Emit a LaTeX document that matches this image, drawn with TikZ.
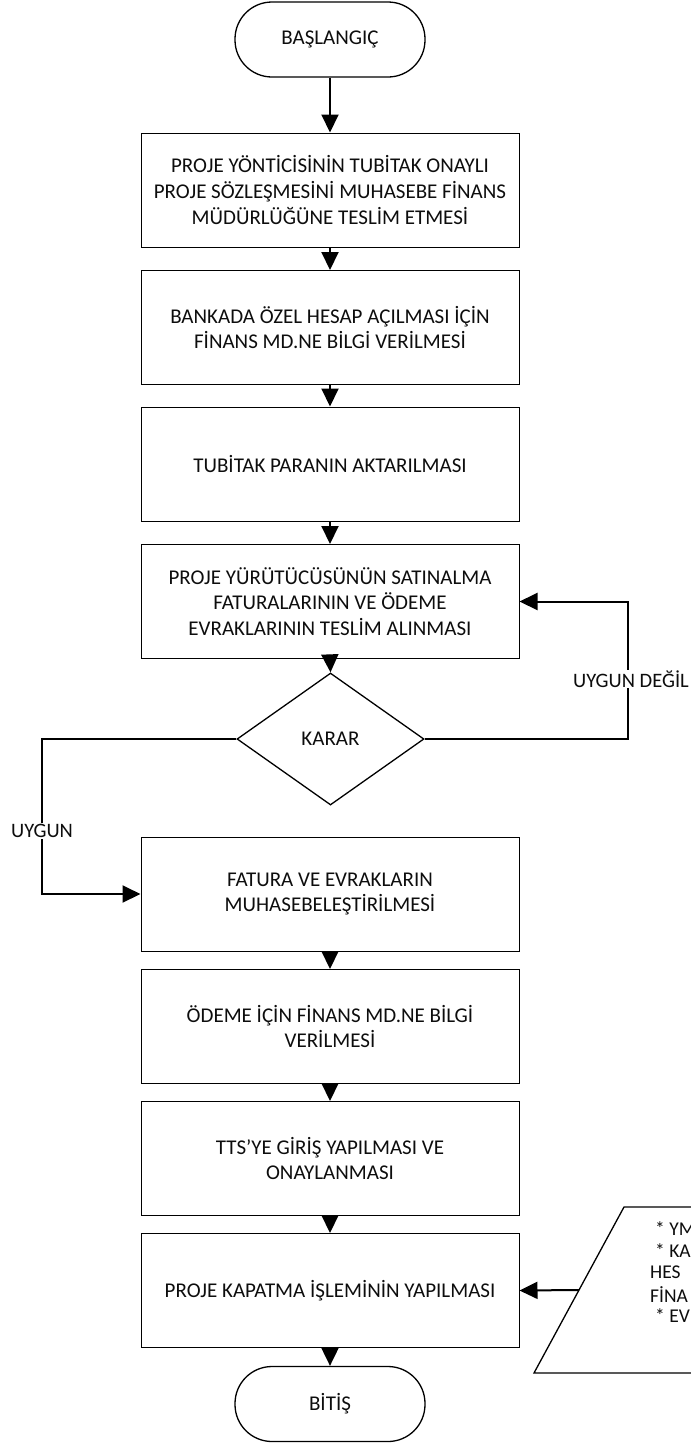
\documentclass[tikz,border=0pt]{standalone}
\usepackage{fontspec}
\setmainfont{Carlito}
\usetikzlibrary{arrows.meta,shapes.geometric,calc}
\begin{document}
\begin{tikzpicture}[x=1pt,y=-1pt,
  every node/.style={font=\fontsize{21}{25.8}\selectfont, text=black!95},
  procbox/.style={draw, line width=1pt, minimum width=378pt, minimum height=114pt, inner sep=0pt, align=center},
  term/.style={draw, line width=1.3pt, rounded corners=37pt, minimum width=190pt, minimum height=75pt, inner sep=0pt},
  decision/.style={draw, diamond, line width=1.3pt, minimum width=187pt, minimum height=132pt, inner sep=0pt},
  flow/.style={line width=2pt, -{Triangle[length=18pt,width=17pt]}},
  lbl/.style={fill=white, inner sep=1pt, font=\fontsize{20.5}{24}\selectfont},
  notetext/.style={anchor=west, inner sep=0pt, font=\fontsize{19.5}{22}\selectfont}
]
\useasboundingbox (0,0) rectangle (691,1444);

\node[term] (start) at (330,39.5) {BAŞLANGIÇ};
\node[procbox] (b1) at (330,190) {PROJE YÖNTİCİSİNİN TUBİTAK ONAYLI\\PROJE SÖZLEŞMESİNİ MUHASEBE FİNANS\\MÜDÜRLÜĞÜNE TESLİM ETMESİ};
\node[procbox] (b2) at (330,327.5) {BANKADA ÖZEL HESAP AÇILMASI İÇİN\\FİNANS MD.NE BİLGİ VERİLMESİ};
\node[procbox] (b3) at (330,464) {TUBİTAK PARANIN AKTARILMASI};
\node[procbox] (b4) at (330,601.5) {PROJE YÜRÜTÜCÜSÜNÜN SATINALMA\\FATURALARININ VE ÖDEME\\EVRAKLARININ TESLİM ALINMASI};
\node[decision] (karar) at (330.5,739) {KARAR};
\node[procbox] (b5) at (330,894) {FATURA VE EVRAKLARIN\\MUHASEBELEŞTİRİLMESİ};
\node[procbox] (b6) at (330,1026.5) {ÖDEME İÇİN FİNANS MD.NE BİLGİ\\VERİLMESİ};
\node[procbox] (b7) at (330,1158.5) {TTS’YE GİRİŞ YAPILMASI VE\\ONAYLANMASI};
\node[procbox] (b8) at (330,1290.5) {PROJE KAPATMA İŞLEMİNİN YAPILMASI};
\node[term] (finish) at (330,1404) {BİTİŞ};

\draw[flow] (start.south) -- (b1.north);
\draw[flow] (b1.south) -- (b2.north);
\draw[flow] (b2.south) -- (b3.north);
\draw[flow] (b3.south) -- (b4.north);
\draw[flow] (b4.south) -- (karar.north);
\draw[flow] (b5.south) -- (b6.north);
\draw[flow] (b6.south) -- (b7.north);
\draw[flow] (b7.south) -- (b8.north);
\draw[flow] (b8.south) -- (finish.north);

\coordinate (lc) at (42,739);
\coordinate (rc) at (628,739);
\draw[flow] (karar.west) -- (lc) |- (b5.west);
\draw[flow] (karar.east) -- (rc) |- (b4.east);
\node[lbl] (yes) at (42,831) {UYGUN};
\node[lbl] (no) at (631,679) {UYGUN DEĞİL};

\draw[line width=1.3pt] (534,1373) -- (624,1207) -- (760,1207) -- (760,1373) -- cycle;
\coordinate (pin) at (579,1290);
\draw[flow] (pin) -- (b8.east);
\node[notetext] (n1) at (655,1229) {* YM};
\node[notetext] (n2) at (655,1251) {* KA};
\node[notetext] (n3) at (650,1272.5) {HES};
\node[notetext] (n4) at (650,1294.5) {FİNA};
\node[notetext] (n5) at (655,1316) {* EV};
\end{tikzpicture}
\end{document}
